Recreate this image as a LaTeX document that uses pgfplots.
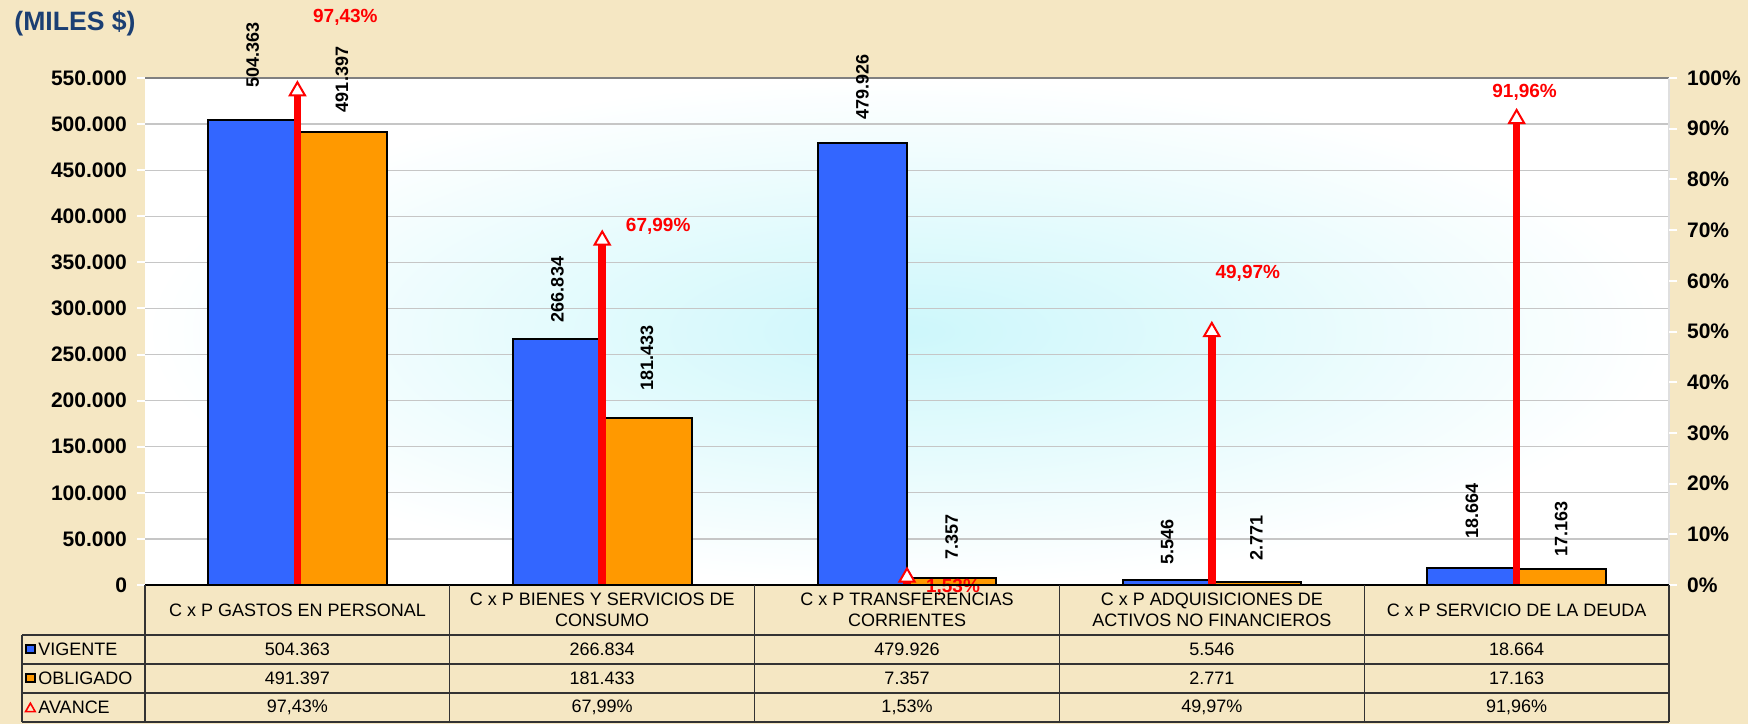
\documentclass[border=0pt]{standalone}
\usepackage{fontspec}
\setmainfont{Liberation Sans}
\usepackage{pgfplots}
\pgfplotsset{compat=1.18}
\usepackage{pgfplotstable}

\definecolor{vig}{HTML}{3366FF}
\definecolor{obl}{HTML}{FF9900}
\definecolor{parch}{HTML}{F5E7C3}
\definecolor{titblue}{HTML}{1B3F73}
\definecolor{glow}{HTML}{CDF7FB}

% montos en miles de $ (gv, go: distancia de la etiqueta a la barra, pt)
\pgfplotstableread{
x vig obl gv go
0 504363 491397 16 9.5
1 266834 181433 8 13
2 479926 7357 11 9
3 5546 2771 7 10.5
4 18664 17163 14 6
}\montos

% avance (%) y desplazamiento de la etiqueta
\pgfplotstableread{
x av dx dy
0 97.43 24 37
1 67.99 28 7
2 1.53 23 -5
3 49.97 18 29
4 91.96 4 13
}\avance

\begin{document}
\begin{tikzpicture}[x=1pt,y=1pt]
\fill[parch] (0,0) rectangle (874,362);
\node[anchor=west, font=\fontsize{13.3}{15}\selectfont\bfseries, text=titblue, inner sep=0pt] at (7,350.5) {(MILES \$)};

\pgfplotsset{
  common/.style={
    at={(72.5pt,69.5pt)}, anchor=south west,
    scale only axis, width=762pt, height=253.5pt,
    xmin=-0.5, xmax=4.5,
    axis x line=none,
    tick align=outside, major tick length=4pt,
    tick style={white, line width=1pt},
    yticklabel style={font=\fontsize{10.5}{12}\selectfont\bfseries},
    /pgf/number format/assume math mode=true,
    clip=false,
  }
}

\begin{axis}[
  common,
  ybar,
  axis y line*=left,
  y axis line style={draw=none},
  ymin=0, ymax=550000,
  ytick={0,50000,100000,150000,200000,250000,300000,350000,400000,450000,500000,550000},
  scaled y ticks=false,
  yticklabel style={xshift=-1.5pt, /pgf/number format/fixed, /pgf/number format/precision=0, /pgf/number format/1000 sep={.}},
  axis background/.style={shade, inner color=glow, outer color=white},
  ymajorgrids, grid style={gray!45, line width=0.6pt},
  bar width=0.293,
  nodes near coords,
  every node near coord/.append style={rotate=90, anchor=west, inner xsep=0pt, xshift=\gap pt,
    font=\fontsize{9}{10}\selectfont\bfseries,
    /pgf/number format/fixed, /pgf/number format/precision=0, /pgf/number format/1000 sep={.}},
]
  \addplot[bar shift=-0.1465, fill=vig, draw=black, line width=1pt,
    visualization depends on={\thisrow{gv} \as \gap}] table[x=x, y=vig] {\montos};
  \addplot[bar shift=0.1465, fill=obl, draw=black, line width=1pt,
    visualization depends on={\thisrow{go} \as \gap}] table[x=x, y=obl] {\montos};
  \draw[gray, line width=1.3pt] (rel axis cs:0,1) -- (rel axis cs:1,1);
  \draw[gray!25, line width=0.8pt] (rel axis cs:1,0) -- (rel axis cs:1,1);
\end{axis}

\begin{axis}[
  common,
  axis y line*=right,
  y axis line style={draw=none},
  ymin=0, ymax=100,
  ytick={0,10,...,100},
  yticklabel={\pgfmathprintnumber{\tick}\%},
  yticklabel style={xshift=1.5pt},
  visualization depends on={\thisrow{dx} \as \ldx},
  visualization depends on={\thisrow{dy} \as \ldy},
  nodes near coords={\pgfmathprintnumber[fixed, precision=2, fixed zerofill, use comma]{\pgfplotspointmeta}\%},
  every node near coord/.append style={anchor=center, xshift=\ldx pt, yshift=\ldy pt,
    text=red, font=\fontsize{9.5}{11}\selectfont\bfseries},
]
  \addplot[ycomb, red, line width=3.8pt, mark=triangle*,
    mark options={fill=white, draw=red, line width=1pt, mark size=4.4pt}]
    table[x=x, y=av] {\avance};
\end{axis}

% tabla de datos
\draw[black, line width=1pt] (72.5,69.5) -- (834.5,69.5);
\foreach \yy in {44.5,30,15.5,1}
  \draw[black!80, line width=0.6pt] (11,\yy) -- (834.5,\yy);
\draw[black!80, line width=0.6pt] (11,1) -- (11,44.5);
\foreach \xx in {72.5,224.9,377.3,529.7,682.1,834.5}
  \draw[black!80, line width=0.6pt] (\xx,1) -- (\xx,69.5);

\begin{scope}[every node/.style={font=\fontsize{9}{10.5}\selectfont, align=center, inner sep=0pt}]
\node at (148.7,57) {C x P GASTOS EN PERSONAL};
\node at (301.1,57) {C x P BIENES Y SERVICIOS DE\\CONSUMO};
\node at (453.5,57) {C x P TRANSFERENCIAS\\CORRIENTES};
\node at (605.9,57) {C x P ADQUISICIONES DE\\ACTIVOS NO FINANCIEROS};
\node at (758.3,57) {C x P SERVICIO DE LA DEUDA};

\node at (148.7,37.25) {504.363};
\node at (301.1,37.25) {266.834};
\node at (453.5,37.25) {479.926};
\node at (605.9,37.25) {5.546};
\node at (758.3,37.25) {18.664};

\node at (148.7,22.75) {491.397};
\node at (301.1,22.75) {181.433};
\node at (453.5,22.75) {7.357};
\node at (605.9,22.75) {2.771};
\node at (758.3,22.75) {17.163};

\node at (148.7,8.25) {97,43\%};
\node at (301.1,8.25) {67,99\%};
\node at (453.5,8.25) {1,53\%};
\node at (605.9,8.25) {49,97\%};
\node at (758.3,8.25) {91,96\%};

\node[anchor=west] at (19,37.25) {VIGENTE};
\node[anchor=west] at (19,22.75) {OBLIGADO};
\node[anchor=west] at (19,8.25) {AVANCE};
\end{scope}
\draw[fill=vig, draw=black, line width=0.8pt] (13,35.5) rectangle (17.5,39.5);
\draw[fill=obl, draw=black, line width=0.8pt] (13,21) rectangle (17.5,25);
\draw[red, line width=0.8pt] (12.8,6.2) -- (17.6,6.2) -- (15.2,10.4) -- cycle;
\end{tikzpicture}
\end{document}
